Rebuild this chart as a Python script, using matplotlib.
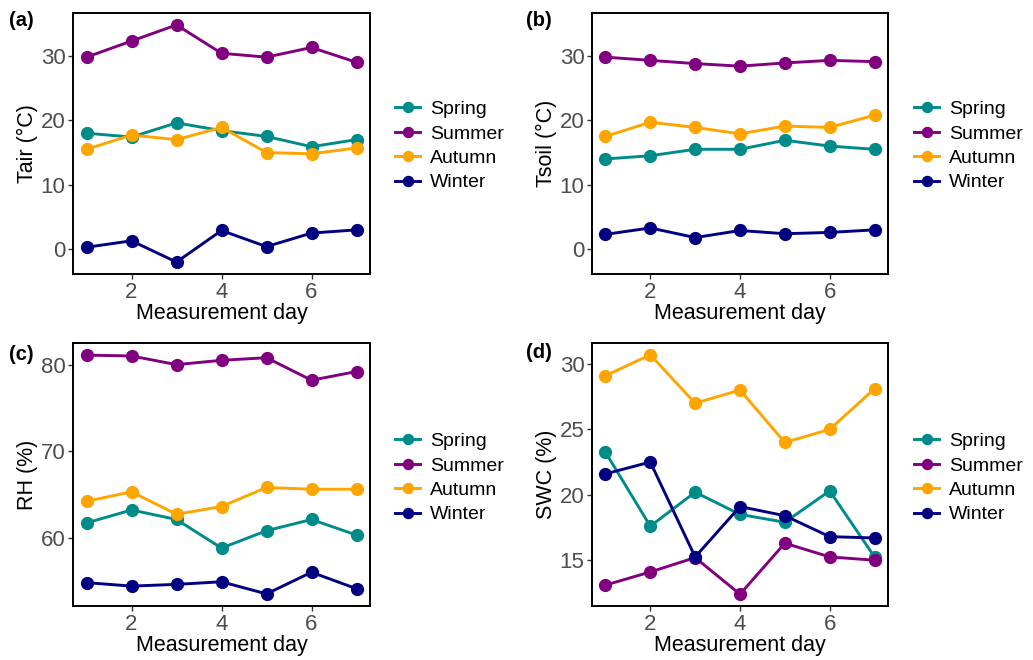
import matplotlib.pyplot as plt

plt.rcParams['font.family'] = ['Liberation Sans', 'DejaVu Sans']

days = [1, 2, 3, 4, 5, 6, 7]
seasons = ['Spring', 'Summer', 'Autumn', 'Winter']
colors = ['#008B8B', '#800080', '#FFA500', '#000080']

tair_spring = [18.0, 17.4, 19.6, 18.4, 17.5, 15.9, 17.0]
tair_summer = [29.8, 32.3, 34.8, 30.4, 29.8, 31.3, 29.0]
tair_autumn = [15.5, 17.7, 17.0, 18.9, 15.0, 14.8, 15.7]
tair_winter = [0.3, 1.3, -2.0, 2.9, 0.4, 2.5, 3.0]

tsoil_spring = [14.0, 14.5, 15.5, 15.5, 16.9, 16.0, 15.5]
tsoil_summer = [29.8, 29.3, 28.8, 28.4, 28.9, 29.3, 29.1]
tsoil_autumn = [17.5, 19.7, 18.9, 17.9, 19.1, 18.9, 20.8]
tsoil_winter = [2.3, 3.3, 1.8, 2.9, 2.4, 2.6, 3.0]

rh_spring = [61.7, 63.2, 62.1, 58.8, 60.8, 62.1, 60.3]
rh_summer = [81.1, 81.0, 80.0, 80.5, 80.8, 78.2, 79.2]
rh_autumn = [64.2, 65.3, 62.7, 63.6, 65.8, 65.6, 65.6]
rh_winter = [54.8, 54.4, 54.6, 54.9, 53.5, 56.0, 54.1]

swc_spring = [23.25, 17.6, 20.2, 18.5, 17.9, 20.3, 15.25]
swc_summer = [13.1, 14.1, 15.2, 12.4, 16.3, 15.25, 15.0]
swc_autumn = [29.1, 30.7, 27.0, 28.0, 24.0, 25.0, 28.1]
swc_winter = [21.6, 22.5, 15.25, 19.1, 18.4, 16.8, 16.7]

panels = [
    ('(a)', 'Tair (°C)', [tair_spring, tair_summer, tair_autumn, tair_winter], (-3.85, 36.65), [0, 10, 20, 30]),
    ('(b)', 'Tsoil (°C)', [tsoil_spring, tsoil_summer, tsoil_autumn, tsoil_winter], (-3.85, 36.65), [0, 10, 20, 30]),
    ('(c)', 'RH (%)', [rh_spring, rh_summer, rh_autumn, rh_winter], (52.1, 82.5), [60, 70, 80]),
    ('(d)', 'SWC (%)', [swc_spring, swc_summer, swc_autumn, swc_winter], (11.5, 31.6), [15, 20, 25, 30]),
]

W, H = 1033, 660
fig = plt.figure(figsize=(W / 100, H / 100), dpi=100)

# axes boxes in pixels: left, right, top, bottom
boxes = [(73, 370, 13, 274), (592, 888, 13, 274), (73, 370, 343, 606), (592, 888, 343, 606)]
label_pos = [(9, 20), (526, 20), (9, 354), (526, 352)]
legend_pos = [(395, 146), (914, 146), (395, 478), (914, 478)]

grey = '#4D4D4D'
for (tag, ylab, series, ylim, yticks), (l, r, t, b), (lx, ly), (gx, gy) in zip(panels, boxes, label_pos, legend_pos):
    ax = fig.add_axes([l / W, 1 - b / H, (r - l) / W, (b - t) / H])
    for vals, name, c in zip(series, seasons, colors):
        ax.plot(days, vals, color=c, lw=2.1, marker='o', ms=8.5, label=name)
    ax.set_xlim(0.7, 7.3)
    ax.set_ylim(*ylim)
    ax.set_xticks([2, 4, 6])
    ax.set_yticks(yticks)
    ax.tick_params(labelsize=16, colors='#333333', labelcolor=grey, length=3.5, width=1, pad=2)
    for s in ax.spines.values():
        s.set_linewidth(1.4)
        s.set_color('black')
    ax.set_xlabel('Measurement day', fontsize=15.5, labelpad=0)
    ax.set_ylabel(ylab, fontsize=15.5, labelpad=2)
    fig.text(lx / W, 1 - ly / H, tag, fontsize=14.5, fontweight='bold', ha='left', va='center')
    ax.legend(loc='center left', bbox_to_anchor=(gx / W, 1 - gy / H), bbox_transform=fig.transFigure,
              frameon=False, fontsize=14, handlelength=1.3, handletextpad=0.5, markerscale=0.85,
              labelspacing=0.35, borderaxespad=0, borderpad=0)

fig.savefig('out.png', dpi=100)
